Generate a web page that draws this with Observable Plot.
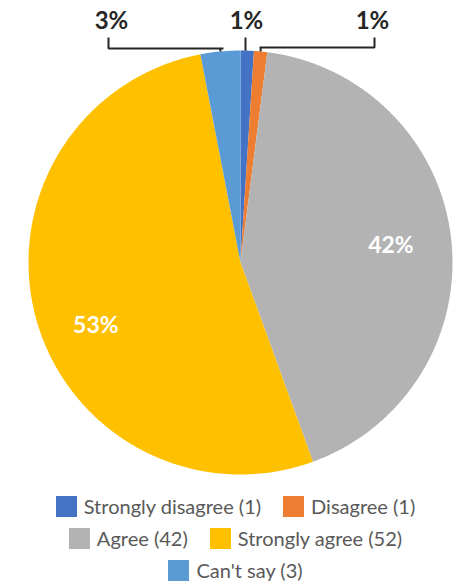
<!DOCTYPE html>
<html><head><meta charset="utf-8">
<script src="https://cdn.jsdelivr.net/npm/d3@7"></script>
<script src="https://cdn.jsdelivr.net/npm/@observablehq/plot@0.6"></script>
<style>
body{margin:0;background:#fff;font-family:Lato,"Open Sans",sans-serif;width:461px;height:582px;overflow:hidden;}
#chart svg{display:block;}
#legend{width:461px;padding-top:10px;padding-left:10px;box-sizing:border-box;}
.row{display:flex;justify-content:center;align-items:center;height:22px;margin-bottom:10px;}
.item{display:flex;align-items:center;margin:0 11px;}
.sw{width:21px;height:21px;margin-right:7px;flex:none;}
.lab{font-size:20px;line-height:22px;color:#595959;white-space:nowrap;}
</style></head><body>
<div id="chart"></div><div id="legend"></div>
<script>
// ---- data ----
const categories = ["Strongly disagree", "Disagree", "Agree", "Strongly agree", "Can't say"];
const counts = [1, 1, 42, 52, 3];
const colors = ["#4472C4", "#ED7D31", "#B3B3B3", "#FFC000", "#5B9BD5"];
const legendRows = [[0, 1], [2, 3], [4]];
const outsideLabels = ["Can't say", "Strongly disagree", "Disagree"];
const insideLabels = ["Agree", "Strongly agree"];

// ---- layout ----
const W = 461, H = 485;
const cx = 240, cy = 262, R = 212;
const insidePos = {"Agree": {angle: null, r: 0.714}, "Strongly agree": {angle: 246.3, r: 0.745}};
const outsidePos = {
  "Can't say": {lx: 111, bends: [[108, 37], [108, 48], [223, 48]]},
  "Strongly disagree": {lx: 246, bends: [[245, 37]]},
  "Disagree": {lx: 372, bends: [[374, 37], [374, 47], [259, 47]]}
};

const total = d3.sum(counts);
const pct = v => Math.round(v / total * 100) + "%";
let acc = 0;
const slices = categories.map((c, i) => {
  const a0 = acc / total * 360; acc += counts[i];
  const a1 = acc / total * 360;
  return {cat: c, value: counts[i], a0, a1, mid: (a0 + a1) / 2};
});
const rad = a => a * Math.PI / 180;
const px = (a, r) => cx + r * Math.sin(rad(a));
const py = (a, r) => cy - r * Math.cos(rad(a));

const polyPts = [];
for (const s of slices) {
  polyPts.push({cat: s.cat, x: cx, y: cy});
  const n = Math.max(2, Math.ceil((s.a1 - s.a0) / 0.5));
  for (let k = 0; k <= n; k++) {
    const a = s.a0 + (s.a1 - s.a0) * k / n;
    polyPts.push({cat: s.cat, x: px(a, R), y: py(a, R)});
  }
  polyPts.push({cat: s.cat, x: cx, y: cy});
}

const inLab = insideLabels.map(c => {
  const s = slices.find(d => d.cat === c);
  const p = insidePos[c];
  const a = p.angle ?? s.mid;
  return {text: pct(s.value), x: px(a, p.r * R), y: py(a, p.r * R)};
});

const leaderPts = [];
const outLab = outsideLabels.map(c => {
  const s = slices.find(d => d.cat === c);
  const p = outsidePos[c];
  const ex = px(s.mid, R), ey = py(s.mid, R);
  p.bends.forEach(([x, y]) => leaderPts.push({cat: c, x, y}));
  const last = p.bends[p.bends.length - 1];
  if (p.bends.length > 1) leaderPts.push({cat: c, x: ex, y: last[1]});
  leaderPts.push({cat: c, x: p.bends.length > 1 ? ex : last[0], y: ey});
  return {text: pct(s.value), x: p.lx, y: 21};
});

const chart = Plot.plot({
  width: W, height: H,
  margin: 0,
  x: {domain: [0, W], range: [0, W], axis: null},
  y: {domain: [0, H], range: [0, H], axis: null},
  color: {domain: categories, range: colors},
  style: {fontFamily: "Lato, 'Open Sans', sans-serif", background: "#fff"},
  marks: [
    Plot.line(polyPts, {x: "x", y: "y", z: "cat", fill: "cat", stroke: "none", curve: "linear"}),
    Plot.line(leaderPts, {x: "x", y: "y", z: "cat", stroke: "#262626", strokeWidth: 2, strokeLinejoin: "miter", strokeLinecap: "butt"}),
    Plot.text(inLab, {x: "x", y: "y", text: "text", fill: "white", fontSize: 23, fontWeight: "bold", textAnchor: "middle", lineAnchor: "middle"}),
    Plot.text(outLab, {x: "x", y: "y", text: "text", fill: "#262626", fontSize: 24, fontWeight: "bold", textAnchor: "middle", lineAnchor: "middle"})
  ]
});
document.getElementById("chart").appendChild(chart);

const leg = document.getElementById("legend");
for (const row of legendRows) {
  const r = document.createElement("div"); r.className = "row";
  for (const i of row) {
    const it = document.createElement("div"); it.className = "item";
    const sw = document.createElement("div"); sw.className = "sw"; sw.style.background = colors[i];
    const lb = document.createElement("span"); lb.className = "lab"; lb.textContent = `${categories[i]} (${counts[i]})`;
    it.appendChild(sw); it.appendChild(lb); r.appendChild(it);
  }
  leg.appendChild(r);
}
</script>
</body></html>
